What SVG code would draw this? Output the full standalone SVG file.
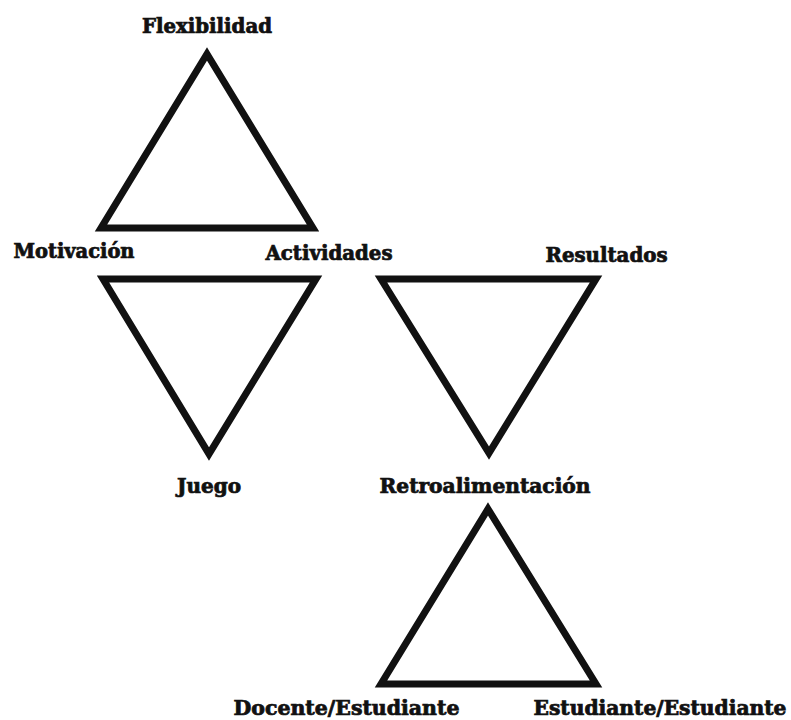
<svg xmlns="http://www.w3.org/2000/svg" width="791" height="720" viewBox="0 0 791 720">
<style>
.tri{fill:#fff;stroke:#111;stroke-width:7;stroke-linejoin:miter;stroke-miterlimit:10}
.lbl{font-family:'DejaVu Serif Condensed','DejaVu Serif',serif;font-stretch:condensed;font-weight:bold;font-size:20px;fill:#111;stroke:#111;stroke-width:0.7;text-anchor:middle}
</style>
<rect width="791" height="720" fill="#fff"/>
<g id="connectors"></g>
<g id="triangle-flexibilidad">
<polygon class="tri" points="207,54 313,228 101,228"/>
<text class="lbl" x="207" y="33" textLength="130" lengthAdjust="spacingAndGlyphs">Flexibilidad</text>
</g>
<g id="triangle-juego">
<polygon class="tri" points="103,279 316,279 209,454"/>
<text class="lbl" x="74" y="258" textLength="121" lengthAdjust="spacingAndGlyphs">Motivación</text>
<text class="lbl" x="329" y="260" textLength="127" lengthAdjust="spacingAndGlyphs">Actividades</text>
<text class="lbl" x="209" y="493" textLength="64" lengthAdjust="spacingAndGlyphs">Juego</text>
</g>
<g id="triangle-resultados">
<polygon class="tri" points="381,279 596,279 489,453"/>
<text class="lbl" x="606.5" y="262" textLength="122" lengthAdjust="spacingAndGlyphs">Resultados</text>
<text class="lbl" x="485" y="493" textLength="211" lengthAdjust="spacingAndGlyphs">Retroalimentación</text>
</g>
<g id="triangle-interaccion">
<polygon class="tri" points="488,509 596,684 381,684"/>
<text class="lbl" x="346.5" y="715" textLength="226" lengthAdjust="spacingAndGlyphs">Docente/Estudiante</text>
<text class="lbl" x="660" y="715" textLength="253" lengthAdjust="spacingAndGlyphs">Estudiante/Estudiante</text>
</g>
</svg>
